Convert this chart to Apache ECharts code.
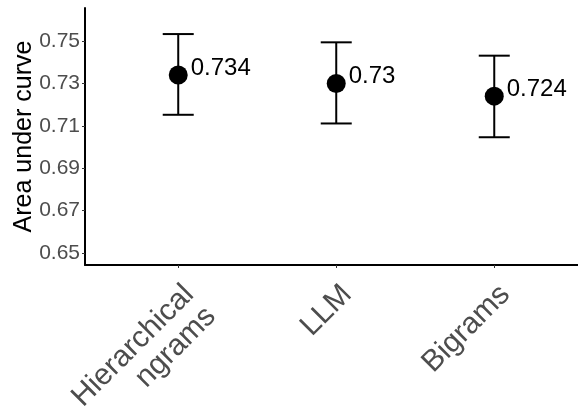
<!DOCTYPE html>
<html>
<head>
<meta charset="utf-8">
<script src="https://cdn.jsdelivr.net/npm/echarts@6/dist/echarts.min.js"></script>
<style>html,body{margin:0;padding:0;background:#fff}#c{width:578px;height:413px}</style>
</head>
<body>
<div id="c"></div>
<script>
const categories = ['Hierarchical\nngrams', 'LLM', 'Bigrams'];
const auc = [0.734, 0.73, 0.724];
const lower = [0.7152, 0.7111, 0.7046];
const upper = [0.7533, 0.7494, 0.7431];
const yTicks = [0.65, 0.67, 0.69, 0.71, 0.73, 0.75];

const idx = categories.map((_, i) => i);
const font = 'Liberation Sans, Arial, Helvetica, sans-serif';
const chart = echarts.init(document.getElementById('c'), null, {renderer: 'canvas'});
chart.setOption({
  animation: false,
  backgroundColor: '#fff',
  grid: {left: 85, right: 0, top: 8, bottom: 148, containLabel: false, outerBoundsMode: 'none'},
  xAxis: {
    type: 'value', min: -0.59, max: 2.53,
    splitLine: {show: false},
    axisLine: {show: true, onZero: false, lineStyle: {color: '#000', width: 2}},
    axisTick: {show: true, customValues: idx, length: 3, lineStyle: {color: '#333', width: 1}},
    axisLabel: {
      customValues: idx, rotate: 45, margin: 14,
      formatter: v => categories[Math.round(v)],
      color: '#4d4d4d', fontSize: 30, fontFamily: font, lineHeight: 31,
      align: 'right', verticalAlign: 'top'
    }
  },
  yAxis: {
    type: 'value', min: 0.6443, max: 0.7656,
    splitLine: {show: false},
    name: 'Area under curve', nameLocation: 'middle', nameGap: 48, nameMoveOverlap: false,
    nameTextStyle: {color: '#000', fontSize: 25, fontFamily: font},
    axisLine: {show: true, onZero: false, lineStyle: {color: '#000', width: 2}},
    axisTick: {show: true, customValues: yTicks, length: 3, lineStyle: {color: '#333', width: 1}},
    axisLabel: {customValues: yTicks, margin: 5, color: '#4d4d4d', fontSize: 21, fontFamily: font,
      formatter: v => v.toFixed(2)}
  },
  series: [
    {
      type: 'custom',
      data: idx.map(i => [i, lower[i], upper[i]]),
      renderItem: (params, api) => {
        const x = api.value(0);
        const lo = api.coord([x, api.value(1)]);
        const hi = api.coord([x, api.value(2)]);
        const hw = 15.5;
        const st = {stroke: '#000', lineWidth: 2};
        return {type: 'group', children: [
          {type: 'line', shape: {x1: lo[0], y1: lo[1], x2: hi[0], y2: hi[1]}, style: st},
          {type: 'line', shape: {x1: lo[0] - hw, y1: lo[1], x2: lo[0] + hw, y2: lo[1]}, style: st},
          {type: 'line', shape: {x1: hi[0] - hw, y1: hi[1], x2: hi[0] + hw, y2: hi[1]}, style: st}
        ]};
      },
      z: 2
    },
    {
      type: 'scatter',
      data: idx.map(i => [i, auc[i]]),
      symbol: 'circle', symbolSize: 19,
      itemStyle: {color: '#000', opacity: 1},
      label: {show: true, position: 'right', distance: 3, offset: [0, -7],
        formatter: p => String(auc[p.dataIndex]),
        color: '#000', fontSize: 24, fontFamily: font},
      z: 3
    }
  ]
});
</script>
</body>
</html>
